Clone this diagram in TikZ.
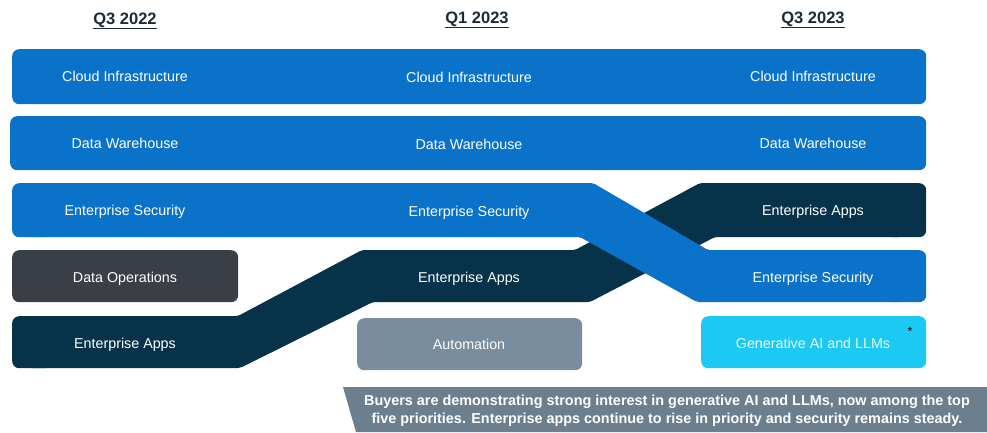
\documentclass[tikz,border=0pt]{standalone}
\usepackage{fontspec}
\setmainfont{Liberation Sans}
\definecolor{cblue}{HTML}{0B72C9}
\definecolor{cnavy}{HTML}{06324A}
\definecolor{cdops}{HTML}{3A3F47}
\definecolor{cauto}{HTML}{7A8D9E}
\definecolor{ccyan}{HTML}{1CC9F2}
\definecolor{cnote}{HTML}{6B7F8F}
\definecolor{chead}{HTML}{1B2A38}
\begin{document}
\begin{tikzpicture}[x=1pt,y=-1pt,
  box/.style={rounded corners=7pt, inner sep=0pt, anchor=north west},
  lbl/.style={text=white, font=\fontsize{14.3}{16}\selectfont, inner sep=0pt, anchor=base},
  head/.style={text=chead, font=\bfseries\fontsize{16.5}{18}\selectfont, inner sep=0pt, anchor=base}]
\useasboundingbox (0,0) rectangle (987,432);

% headers
\node[head] (h1) at (125,24) {\underline{Q3 2022}};
\node[head] (h2) at (477,23) {\underline{Q1 2023}};
\node[head] (h3) at (813,23) {\underline{Q3 2023}};

% full-width rows
\node[box, fill=cblue, minimum width=914pt, minimum height=55pt] (cloud) at (12,49) {};
\node[box, fill=cblue, minimum width=916pt, minimum height=54pt] (dwh) at (10,116) {};

% enterprise apps band (below security)
\fill[cnavy, rounded corners=2pt] (30,316) -- (238,316) -- (362,250) -- (575,250) -- (700,183) -- (900,183) -- (900,237) -- (715,237) -- (590,302) -- (373,302) -- (240,368) -- (30,368) -- cycle;
\node[box, fill=cnavy, minimum width=40pt, minimum height=52pt] (acapl) at (12,316) {};
\node[box, fill=cnavy, minimum width=40pt, minimum height=54pt] (acapr) at (886,183) {};
% enterprise security band
\fill[cblue, rounded corners=2pt] (30,183) -- (593,183) -- (708,250) -- (900,250) -- (900,302) -- (697,302) -- (580,237) -- (30,237) -- cycle;
\node[box, fill=cblue, minimum width=40pt, minimum height=54pt] (scapl) at (12,183) {};
\node[box, fill=cblue, minimum width=40pt, minimum height=52pt] (scapr) at (886,250) {};

% separate boxes
\node[box, fill=cdops, minimum width=226pt, minimum height=52pt] (dops) at (12,250) {};
\node[box, fill=cauto, minimum width=225pt, minimum height=52pt] (auto) at (357,318) {};
\node[box, fill=ccyan, minimum width=225pt, minimum height=52pt] (genai) at (701,316) {};

% labels
\node[lbl] (c1) at (125,81) {Cloud Infrastructure};
\node[lbl] (c2) at (469,82) {Cloud Infrastructure};
\node[lbl] (c3) at (813,81) {Cloud Infrastructure};
\node[lbl] (d1) at (125,148) {Data Warehouse};
\node[lbl] (d2) at (469,149) {Data Warehouse};
\node[lbl] (d3) at (813,148) {Data Warehouse};
\node[lbl] (s1) at (125,215) {Enterprise Security};
\node[lbl] (s2) at (469,216) {Enterprise Security};
\node[lbl] (s3) at (813,282) {Enterprise Security};
\node[lbl] (a1) at (125,348) {Enterprise Apps};
\node[lbl] (a2) at (469,282) {Enterprise Apps};
\node[lbl] (a3) at (813,215) {Enterprise Apps};
\node[lbl] (o1) at (125,282) {Data Operations};
\node[lbl] (au) at (469,349) {Automation};
\node[lbl, text=white!90!ccyan] (g3) at (813,348) {Generative AI and LLMs};
\node[inner sep=0pt, font=\fontsize{12}{12}\selectfont] (ast) at (910,331) {*};

% note
\fill[cnote] (343,387) -- (987,387) -- (987,432) -- (356,432) -- cycle;
\node[text=white, font=\bfseries\fontsize{14.4}{18}\selectfont, align=center, inner sep=0pt] (note) at (667,411)
  {Buyers are demonstrating strong interest in generative AI and LLMs, now among the top\\
   five priorities. Enterprise apps continue to rise in priority and security remains steady.};
\end{tikzpicture}
\end{document}
